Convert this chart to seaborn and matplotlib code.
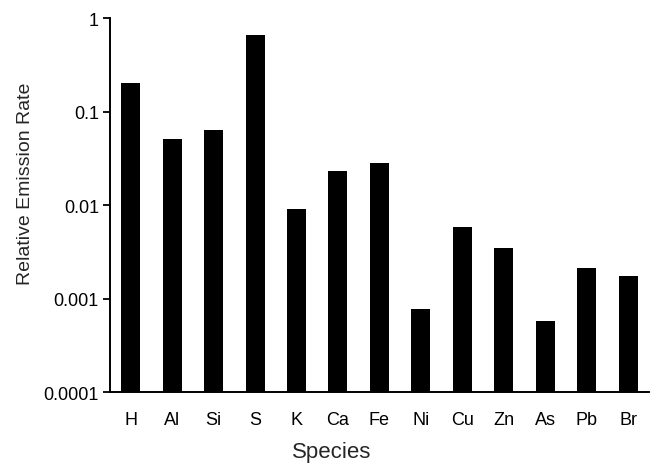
import matplotlib
matplotlib.use("Agg")
import matplotlib.pyplot as plt
import matplotlib.ticker as mticker
import seaborn as sns
import pandas as pd
import numpy as np

species = ["H", "Al", "Si", "S", "K", "Ca", "Fe", "Ni", "Cu", "Zn", "As", "Pb", "Br"]
emission_rate = [0.200, 0.0506, 0.0636, 0.653, 0.00904, 0.0230, 0.0280,
                 0.00077, 0.0058, 0.00349, 0.00058, 0.00212, 0.00172]
y_ticks = [0.0001, 0.001, 0.01, 0.1, 1]
y_tick_labels = ["0.0001", "0.001", "0.01", "0.1", "1"]

df = pd.DataFrame({"Species": species, "Rate": emission_rate})

sns.set_style("white")
plt.rcParams["font.family"] = ["Liberation Sans", "DejaVu Sans"]

fig = plt.figure(figsize=(6.6, 4.64), dpi=100)
ax = fig.add_axes([0.1667, 0.153, 0.8163, 0.806])

sns.barplot(data=df, x="Species", y="Rate", color="black", width=0.46,
            saturation=1, ax=ax, edgecolor="black", linewidth=0)
ax.set_yscale("log")
ax.set_ylim(1e-4, 1)
ax.set_xlim(-0.5, len(species) - 0.5)

ax.yaxis.set_major_locator(mticker.FixedLocator(y_ticks))
ax.yaxis.set_major_formatter(mticker.FixedFormatter(y_tick_labels))
ax.yaxis.set_minor_locator(mticker.NullLocator())

# category labels without marks, separator marks between categories
ax.xaxis.set_minor_locator(mticker.FixedLocator(np.arange(-0.5, len(species), 1.0)))
ax.tick_params(axis="x", which="major", length=0, labelsize=13, pad=14, colors="black")
ax.tick_params(axis="x", which="minor", length=5, width=1.3, direction="out", color="black")
ax.tick_params(axis="y", which="major", length=5, width=1.3, direction="out",
               labelsize=13, pad=3, colors="black", left=True)

for side in ["top", "right"]:
    ax.spines[side].set_visible(False)
for side in ["left", "bottom"]:
    ax.spines[side].set_color("black")
    ax.spines[side].set_linewidth(1.4)

ax.set_xlabel("Species", fontsize=16, labelpad=9)
ax.set_ylabel("Relative Emission Rate", fontsize=14, labelpad=7)
ax.xaxis.label.set_x(0.412)
ax.yaxis.label.set_y(0.559)

fig.savefig("out.png", dpi=100)
